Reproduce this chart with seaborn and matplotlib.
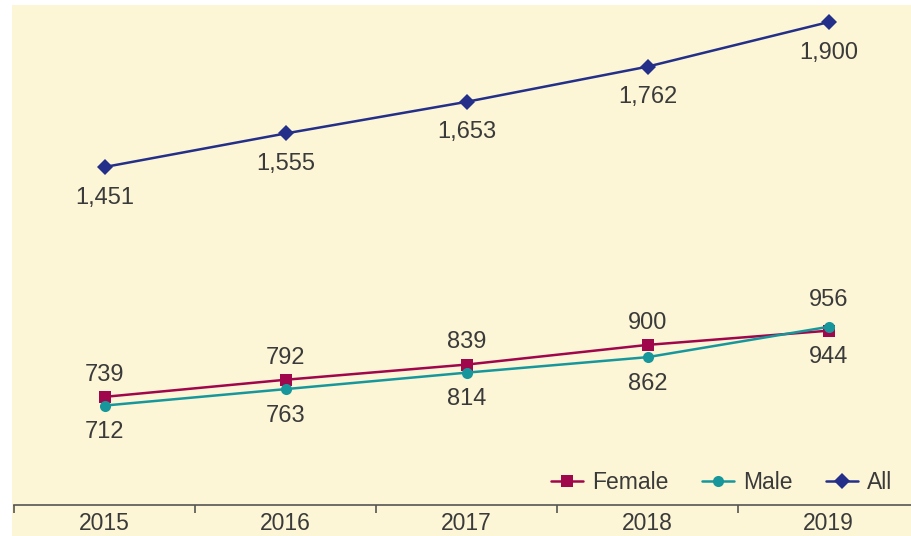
import matplotlib
matplotlib.use("Agg")
import matplotlib.pyplot as plt
import numpy as np
import pandas as pd
import seaborn as sns

years = ["2015", "2016", "2017", "2018", "2019"]
female = [739, 792, 839, 900, 944]
male = [712, 763, 814, 862, 956]
total = [1451, 1555, 1653, 1762, 1900]

# long table for seaborn
rows = []
for name, vals in [("Female", female), ("Male", male), ("All", total)]:
    for i, v in enumerate(vals):
        rows.append({"pos": i, "value": v, "series": name})
df = pd.DataFrame(rows)

sns.set_style("white")
plt.rcParams["font.family"] = ["Liberation Sans", "DejaVu Sans"]

bg = "#FCF6D6"
txt = "#3a3a3a"
colors = {"Female": "#A0064B", "Male": "#17979C", "All": "#232F88"}
markers = {"Female": "s", "Male": "o", "All": "D"}

fig = plt.figure(figsize=(9.12, 5.36), dpi=100)
fig.patch.set_facecolor("white")
# cream panel behind everything
fig.patches.append(plt.Rectangle((12 / 912, 0), 1, 1 - 5 / 536, transform=fig.transFigure,
                                 facecolor=bg, edgecolor="none", zorder=-10))
ax = fig.add_axes([14 / 912, 31 / 536, 905 / 912, 500 / 536])
ax.set_facecolor("none")
ax.set_zorder(5)

sns.lineplot(data=df, x="pos", y="value", hue="series", style="series",
             palette=colors, markers=markers, dashes=False, linewidth=1.8,
             markersize=8, markeredgewidth=0, ax=ax)

ax.set_xlim(-0.5, 4.5)
ax.set_ylim(404, 1953)

# value labels
def lab(x, y, s, dy):
    ax.annotate(s, (x, y), xytext=(0, dy), textcoords="offset points",
                ha="center", va="center", fontsize=17, color=txt)

for i, v in enumerate(total):
    lab(i, v, f"{v:,}", -22)
for i, v in enumerate(female):
    lab(i, v, f"{v:,}", -19 if i == 4 else 16)
for i, v in enumerate(male):
    lab(i, v, f"{v:,}", 19 if i == 4 else -19)

for s in ["top", "right", "left"]:
    ax.spines[s].set_visible(False)
ax.spines["bottom"].set_color("#555555")
ax.spines["bottom"].set_linewidth(1.2)
ax.set_yticks([])
ax.set_xticks(range(5))
ax.set_xticklabels(years, fontsize=16.5, color=txt)
ax.set_xticks(np.arange(-0.5, 5, 1), minor=True)
ax.tick_params(axis="x", which="major", bottom=False, length=0, pad=5)
ax.tick_params(axis="x", which="minor", bottom=True, length=6, width=1.2,
               color="#555555", direction="out")
ax.set_xlabel("")
ax.set_ylabel("")

leg = ax.legend(loc="lower right", bbox_to_anchor=(0.993, -0.02), ncol=3, frameon=False,
                fontsize=16.5, handlelength=1.4, columnspacing=1.45, handletextpad=0.4,
                labelcolor=txt)

fig.savefig("out.png", dpi=100, facecolor=fig.get_facecolor())
